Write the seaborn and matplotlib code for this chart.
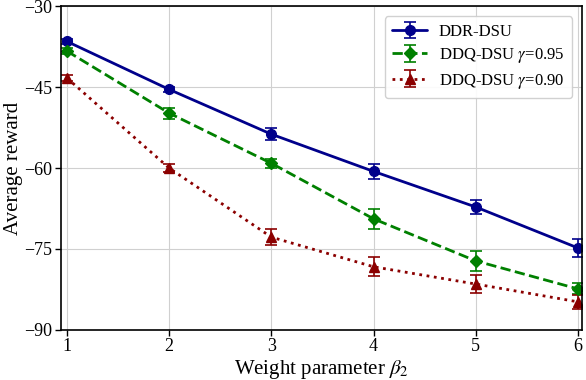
import numpy as np
import matplotlib
matplotlib.use("Agg")
import matplotlib.pyplot as plt
import seaborn as sns

# weight parameter values
beta2 = [1, 2, 3, 4, 5, 6]

# mean rewards
ddr_dsu = [-36.5, -45.4, -53.7, -60.6, -67.2, -74.8]
ddq_095 = [-38.3, -49.8, -59.1, -69.4, -77.2, -82.4]
ddq_090 = [-43.3, -60.0, -72.8, -78.3, -81.5, -84.8]

# error bar half-widths
ddr_err = [0.5, 0.5, 1.1, 1.4, 1.3, 1.6]
ddq_095_err = [0.6, 1.0, 0.8, 1.8, 1.9, 1.0]
ddq_090_err = [0.6, 0.8, 1.5, 1.8, 1.6, 1.3]

labels = ["DDR-DSU", r"DDQ-DSU $\gamma$=0.95", r"DDQ-DSU $\gamma$=0.90"]

sns.set_style("whitegrid")
plt.rcParams['font.family'] = ['Liberation Serif', 'DejaVu Serif']
plt.rcParams['mathtext.fontset'] = 'stix'
plt.rcParams['text.color'] = 'black'
plt.rcParams['axes.labelcolor'] = 'black'
plt.rcParams['xtick.color'] = 'black'
plt.rcParams['ytick.color'] = 'black'

fig = plt.figure(figsize=(5.86, 3.80), dpi=100)
ax = fig.add_axes([0.104, 0.132, 0.889, 0.851])

series = [
    (ddr_dsu, ddr_err, "#00008b", "-", "o", 7),
    (ddq_095, ddq_095_err, "#008000", "--", "D", 6),
    (ddq_090, ddq_090_err, "#8b0000", ":", "^", 7),
]
for (vals, err, col, ls, mk, ms), lab in zip(series, labels):
    ax.errorbar(beta2, vals, yerr=err, color=col, linestyle=ls, marker=mk,
                markersize=ms, linewidth=2, capsize=4, elinewidth=1.2,
                capthick=1.2, label=lab)

ax.set_xlim(0.94, 6.04)
ax.set_ylim(-90, -30)
ax.set_yticks([-90, -75, -60, -45, -30])
ax.set_xticks(beta2)
ax.grid(True, color="#d0d0d0", linewidth=0.8)
for s in ax.spines.values():
    s.set_color("black")
    s.set_linewidth(1.2)
ax.tick_params(axis="both", labelsize=13, direction="out", length=4,
               width=1, color="black", left=True, bottom=True, pad=2)

ax.set_xlabel(r"Weight parameter $\beta_2$", fontsize=15, labelpad=2)
ax.set_ylabel("Average reward", fontsize=15, labelpad=1)

ax.legend(loc="upper right", fontsize=12, frameon=True, framealpha=0.9,
          edgecolor="#cccccc", handlelength=2.1, borderpad=0.45,
          labelspacing=0.38, handletextpad=0.7, borderaxespad=0.6)

fig.savefig("out.png", dpi=100)
